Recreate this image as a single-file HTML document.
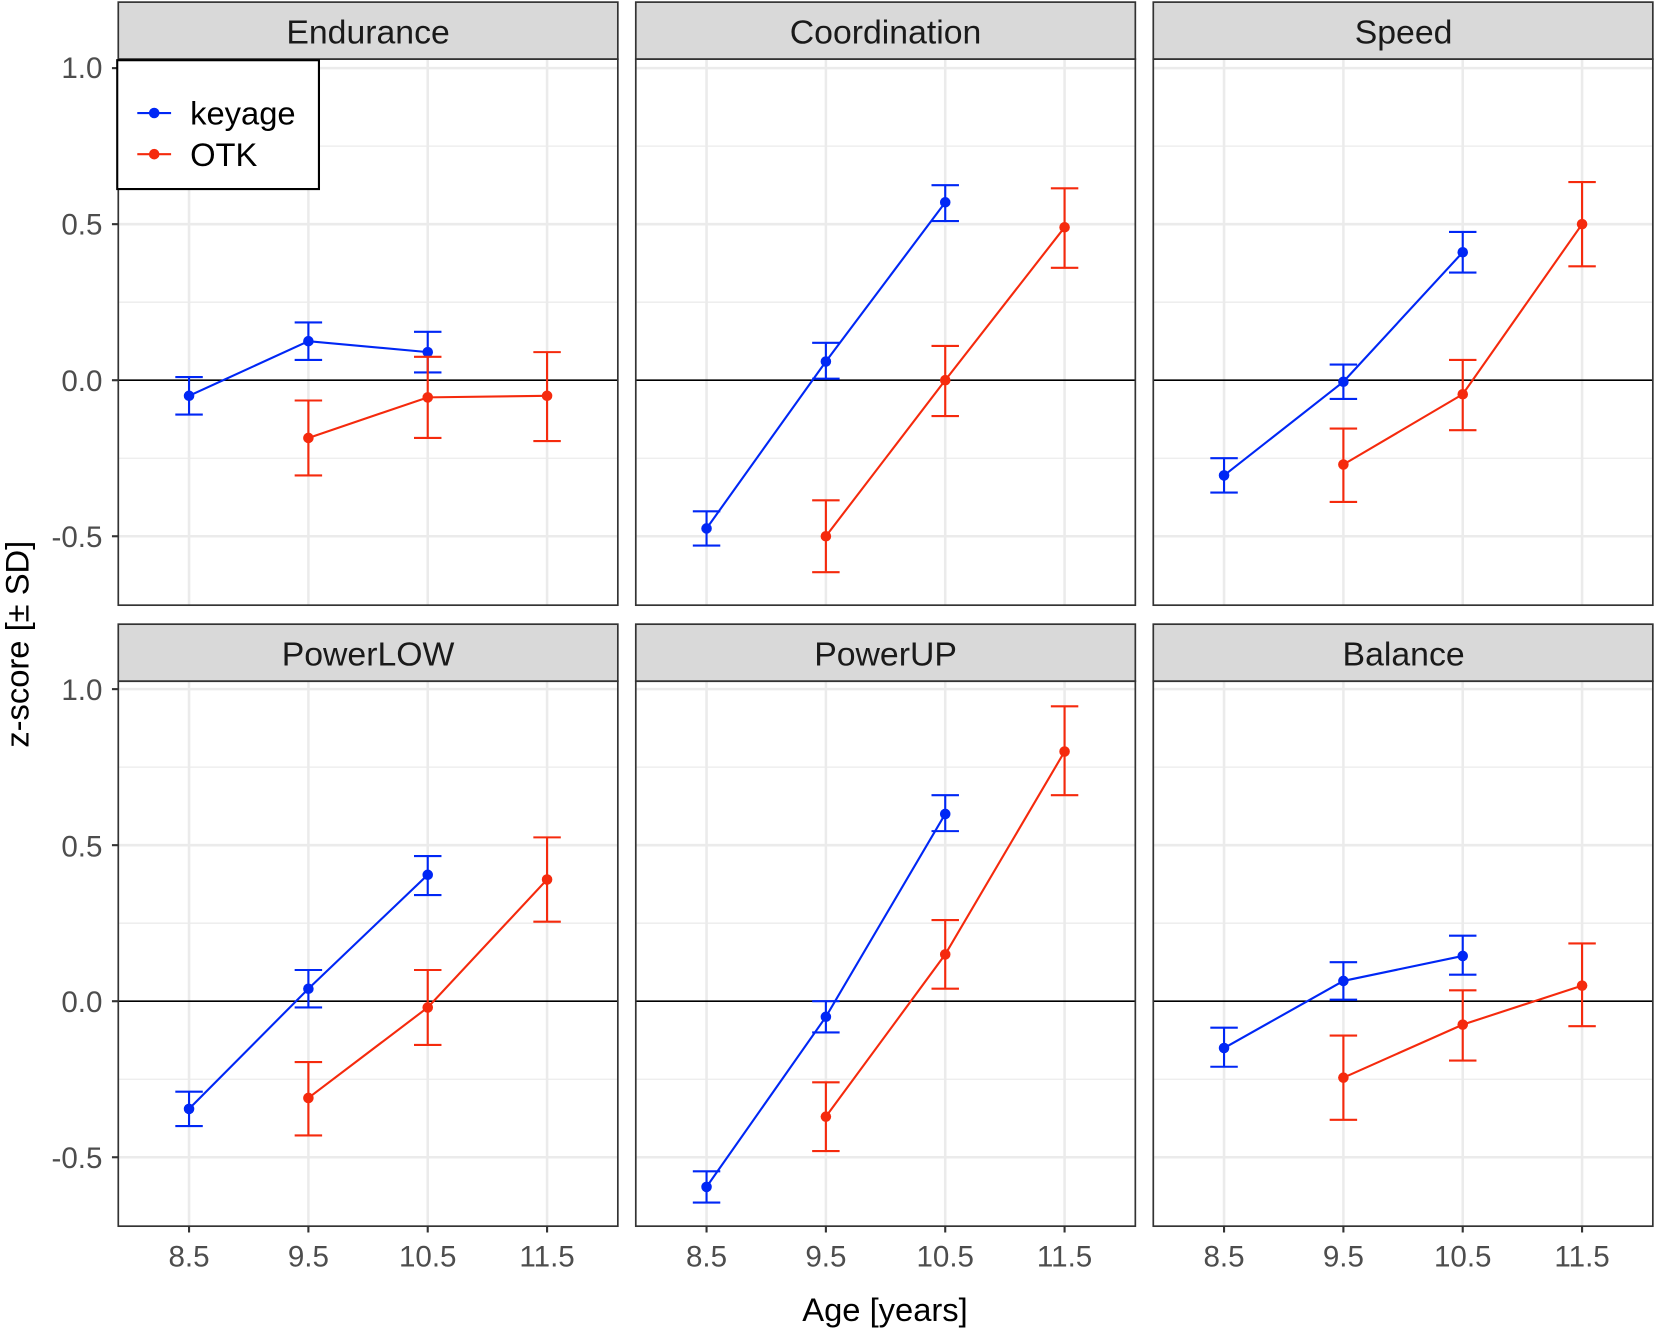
<!DOCTYPE html>
<html><head><meta charset="utf-8"><style>
html,body{margin:0;padding:0;background:#fff;}
svg{display:block;font-family:"Liberation Sans",Arial,sans-serif;}
</style></head><body>
<svg id="s" width="1656" height="1332" viewBox="0 0 1568 1261.2" xmlns="http://www.w3.org/2000/svg">
<g id="g"></g>
<g font-size="32" fill="#1a1a1a" text-anchor="middle">
<text x="348.5" y="41">Endurance</text>
<text x="838.5" y="41">Coordination</text>
<text x="1329" y="41">Speed</text>
<text x="348.5" y="630">PowerLOW</text>
<text x="838.5" y="630">PowerUP</text>
<text x="1329" y="630">Balance</text>
</g>
<g font-size="28" fill="#4d4d4d" text-anchor="end">
<text x="97" y="74">1.0</text><text x="97" y="222">0.5</text><text x="97" y="370">0.0</text><text x="97" y="518">-0.5</text>
<text x="97" y="663">1.0</text><text x="97" y="811">0.5</text><text x="97" y="958">0.0</text><text x="97" y="1106">-0.5</text>
</g>
<g font-size="28" fill="#4d4d4d" text-anchor="middle">
<text x="179" y="1199">8.5</text><text x="292" y="1199">9.5</text><text x="405" y="1199">10.5</text><text x="518" y="1199">11.5</text>
<text x="669" y="1199">8.5</text><text x="782" y="1199">9.5</text><text x="895" y="1199">10.5</text><text x="1008" y="1199">11.5</text>
<text x="1159" y="1199">8.5</text><text x="1272" y="1199">9.5</text><text x="1385" y="1199">10.5</text><text x="1498" y="1199">11.5</text>
</g>
<text x="838" y="1251" font-size="31" text-anchor="middle" fill="#000">Age [years]</text>
<text transform="translate(27,610) rotate(-90)" font-size="31" text-anchor="middle" fill="#000">z-score [± SD]</text>
<rect x="111" y="57" width="191" height="122" fill="#fff" stroke="#000" stroke-width="2"/>
<line x1="130" y1="107" x2="162" y2="107" stroke="#0027f5" stroke-width="2"/><circle cx="146" cy="107" r="5" fill="#0027f5"/>
<line x1="130" y1="146" x2="162" y2="146" stroke="#f52a0d" stroke-width="2"/><circle cx="146" cy="146" r="5" fill="#f52a0d"/>
<text x="180" y="118" font-size="31" fill="#000">keyage</text>
<text x="180" y="157" font-size="31" fill="#000">OTK</text>
</svg>
<script>
var g=document.getElementById('g'),h='';
var B='#0027f5',R='#f52a0d';
var P=[
[0,0,[[-0.05,-0.11,0.01],[0.125,0.065,0.185],[0.09,0.025,0.155]],[[-0.185,-0.305,-0.065],[-0.055,-0.185,0.075],[-0.05,-0.195,0.09]]],
[1,0,[[-0.475,-0.53,-0.42],[0.06,0.005,0.12],[0.57,0.51,0.625]],[[-0.5,-0.615,-0.385],[0,-0.115,0.11],[0.49,0.36,0.615]]],
[2,0,[[-0.305,-0.36,-0.25],[-0.005,-0.06,0.05],[0.41,0.345,0.475]],[[-0.27,-0.39,-0.155],[-0.045,-0.16,0.065],[0.5,0.365,0.635]]],
[0,1,[[-0.345,-0.4,-0.29],[0.04,-0.02,0.1],[0.405,0.34,0.465]],[[-0.31,-0.43,-0.195],[-0.02,-0.14,0.1],[0.39,0.255,0.525]]],
[1,1,[[-0.595,-0.645,-0.545],[-0.05,-0.1,0],[0.6,0.545,0.66]],[[-0.37,-0.48,-0.26],[0.15,0.04,0.26],[0.8,0.66,0.945]]],
[2,1,[[-0.15,-0.21,-0.085],[0.065,0.005,0.125],[0.145,0.085,0.21]],[[-0.245,-0.38,-0.11],[-0.075,-0.19,0.035],[0.05,-0.08,0.185]]]];
P.forEach(function(p){
 var L=112+p[0]*490,Rr=L+473,T=p[1]?591:2,SB=T+54,BT=p[1]?1161:573,z=p[1]?948:360;
 function Y(v){return z-295.5*v;}
 function X(i){return L+67+113*i;}
 h+='<rect x="'+L+'" y="'+SB+'" width="473" height="'+(BT-SB)+'" fill="#fff"/>';
 [0.75,0.25,-0.25].forEach(function(v){h+='<line x1="'+L+'" x2="'+Rr+'" y1="'+Y(v)+'" y2="'+Y(v)+'" stroke="#ebebeb" stroke-width="1.2"/>';});
 [1,0.5,-0.5].forEach(function(v){h+='<line x1="'+L+'" x2="'+Rr+'" y1="'+Y(v)+'" y2="'+Y(v)+'" stroke="#ebebeb" stroke-width="2.4"/>';});
 for(var i=0;i<4;i++){h+='<line x1="'+X(i)+'" x2="'+X(i)+'" y1="'+SB+'" y2="'+BT+'" stroke="#ebebeb" stroke-width="2.4"/>';
  if(p[1])h+='<line x1="'+X(i)+'" x2="'+X(i)+'" y1="'+BT+'" y2="'+(BT+6)+'" stroke="#333" stroke-width="2"/>';}
 h+='<line x1="'+L+'" x2="'+Rr+'" y1="'+z+'" y2="'+z+'" stroke="#000" stroke-width="1.6"/>';
 [[p[2],0,B],[p[3],1,R]].forEach(function(s){
  var d=s[0],o=s[1],c=s[2],pts=d.map(function(e,k){return X(k+o)+','+Y(e[0]);}).join(' ');
  h+='<polyline points="'+pts+'" fill="none" stroke="'+c+'" stroke-width="2"/>';
  d.forEach(function(e,k){var x=X(k+o);
   h+='<path d="M'+x+' '+Y(e[1])+'V'+Y(e[2])+'M'+(x-13)+' '+Y(e[1])+'H'+(x+13)+'M'+(x-13)+' '+Y(e[2])+'H'+(x+13)+'" stroke="'+c+'" stroke-width="2" fill="none"/>';
   h+='<circle cx="'+x+'" cy="'+Y(e[0])+'" r="5" fill="'+c+'"/>';});
 });
 h+='<rect x="'+L+'" y="'+T+'" width="473" height="54" fill="#d9d9d9" stroke="#333" stroke-width="1.6"/>';
 h+='<rect x="'+L+'" y="'+SB+'" width="473" height="'+(BT-SB)+'" fill="none" stroke="#333" stroke-width="1.6"/>';
 if(p[0]==0){[1,0.5,0,-0.5].forEach(function(v){h+='<line x1="'+(L-6)+'" x2="'+L+'" y1="'+Y(v)+'" y2="'+Y(v)+'" stroke="#333" stroke-width="2"/>';});}
});
g.innerHTML=h;
</script>
</body></html>
